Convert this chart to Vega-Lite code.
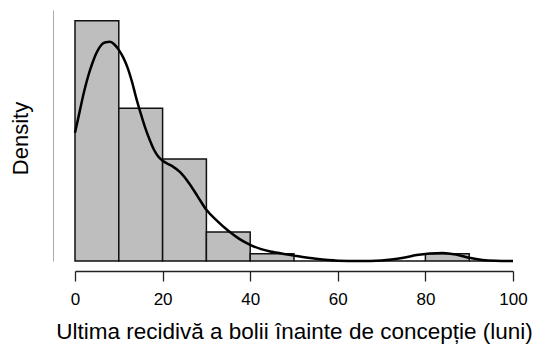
{
  "$schema": "https://vega.github.io/schema/vega-lite/v6.json",
  "width": 438,
  "height": 251,
  "autosize": {"type": "none"},
  "padding": {"left": 75, "top": 10, "right": 25, "bottom": 84},
  "background": "white",
  "config": {
    "view": {"stroke": null},
    "font": "Liberation Sans"
  },
  "datasets": {
    "bars": [
      {"start": 0, "end": 10, "density": 0.0446},
      {"start": 10, "end": 20, "density": 0.02838},
      {"start": 20, "end": 30, "density": 0.01892},
      {"start": 30, "end": 40, "density": 0.0054},
      {"start": 40, "end": 50, "density": 0.00135},
      {"start": 50, "end": 60, "density": 0},
      {"start": 60, "end": 70, "density": 0},
      {"start": 70, "end": 80, "density": 0},
      {"start": 80, "end": 90, "density": 0.00135},
      {"start": 90, "end": 100, "density": 0}
    ],
    "curve": [
      {"x": 0, "density": 0.0238},
      {"x": 1, "density": 0.0275},
      {"x": 2, "density": 0.0312},
      {"x": 3, "density": 0.0343},
      {"x": 4, "density": 0.0368},
      {"x": 5, "density": 0.0388},
      {"x": 6, "density": 0.0401},
      {"x": 7, "density": 0.0406},
      {"x": 8, "density": 0.0407},
      {"x": 9, "density": 0.0402},
      {"x": 10, "density": 0.0392},
      {"x": 11, "density": 0.0378},
      {"x": 12, "density": 0.0359},
      {"x": 13, "density": 0.0333},
      {"x": 14, "density": 0.0302},
      {"x": 15, "density": 0.0274},
      {"x": 16, "density": 0.0248},
      {"x": 17, "density": 0.0226},
      {"x": 18, "density": 0.0207},
      {"x": 19, "density": 0.0194},
      {"x": 20, "density": 0.0186},
      {"x": 22, "density": 0.0177},
      {"x": 24, "density": 0.0165},
      {"x": 26, "density": 0.0145},
      {"x": 28, "density": 0.0120},
      {"x": 30, "density": 0.0095},
      {"x": 32.5, "density": 0.0074},
      {"x": 35, "density": 0.0056},
      {"x": 37.5, "density": 0.0041},
      {"x": 40, "density": 0.0030},
      {"x": 42.5, "density": 0.0022},
      {"x": 45, "density": 0.0017},
      {"x": 50, "density": 0.0010},
      {"x": 55, "density": 0.0004},
      {"x": 60, "density": 0.00006},
      {"x": 65, "density": 0.0},
      {"x": 70, "density": 0.0001},
      {"x": 75, "density": 0.0006},
      {"x": 78, "density": 0.0011},
      {"x": 81, "density": 0.0014},
      {"x": 84, "density": 0.0015},
      {"x": 87, "density": 0.0012},
      {"x": 90, "density": 0.0006},
      {"x": 93, "density": 0.0002},
      {"x": 96, "density": 0.00005},
      {"x": 100, "density": 0}
    ]
  },
  "layer": [
    {
      "data": {"name": "bars"},
      "mark": {"type": "rect", "fill": "#bebebe", "stroke": "#111111", "strokeWidth": 1.5},
      "encoding": {
        "x": {
          "field": "start", "type": "quantitative",
          "scale": {"domain": [0, 100], "nice": false, "zero": false},
          "axis": {
            "title": "Ultima recidivă a bolii înainte de concepție (luni)",
            "values": [0, 20, 40, 60, 80, 100],
            "grid": false,
            "offset": 10,
            "labelFlush": false,
            "domainColor": "#222222",
            "domainWidth": 1.3,
            "tickColor": "#222222",
            "tickWidth": 1.3,
            "tickSize": 10,
            "labelPadding": 10,
            "labelFontSize": 17,
            "labelColor": "#000000",
            "labelFont": "Liberation Sans",
            "titleFontSize": 22.5,
            "titleFontWeight": "normal",
            "titleColor": "#000000",
            "titleFont": "Liberation Sans",
            "titleBaseline": "alphabetic",
            "titleY": 67
          }
        },
        "x2": {"field": "end"},
        "y": {
          "field": "density", "type": "quantitative",
          "scale": {"domain": [0, 0.0466], "nice": false},
          "axis": {
            "title": "Density",
            "grid": false,
            "labels": false,
            "ticks": false,
            "offset": 22,
            "domainColor": "#a8a8a8",
            "domainWidth": 1,
            "titleFontSize": 22,
            "titleFontWeight": "normal",
            "titleColor": "#000000",
            "titleFont": "Liberation Sans",
            "titleBaseline": "alphabetic",
            "titleX": -26,
            "titleY": 128
          }
        },
        "y2": {"datum": 0}
      }
    },
    {
      "data": {"name": "curve"},
      "mark": {"type": "line", "color": "#000000", "strokeWidth": 2.5, "interpolate": "monotone"},
      "encoding": {
        "x": {"field": "x", "type": "quantitative"},
        "y": {"field": "density", "type": "quantitative"}
      }
    }
  ]
}
